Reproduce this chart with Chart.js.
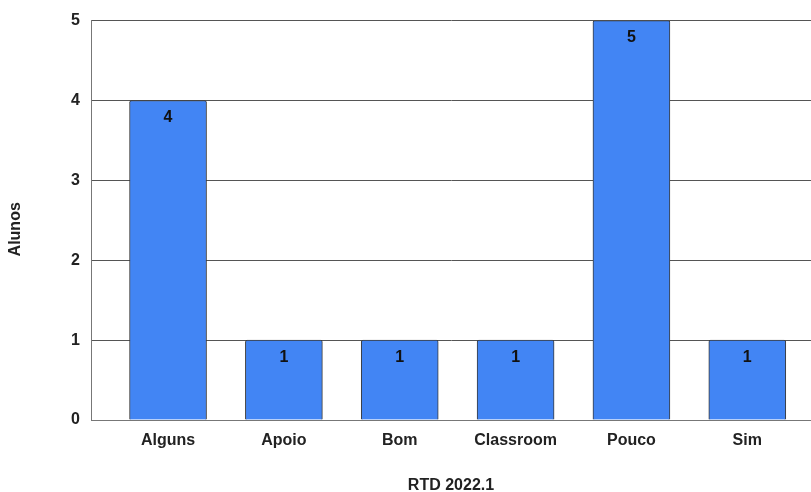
<!DOCTYPE html>
<html>
<head>
<meta charset="utf-8">
<script src="https://cdn.jsdelivr.net/npm/chart.js@4/dist/chart.umd.min.js"></script>
<style>
  html, body { margin: 0; padding: 0; background: #fff; overflow: hidden; }
  #wrap { width: 811px; height: 492px; }
</style>
</head>
<body>
<div id="wrap"><canvas id="chart"></canvas></div>
<script>
const categories = ["Alguns", "Apoio", "Bom", "Classroom", "Pouco", "Sim"];
const alunos = [4, 1, 1, 1, 5, 1];
const yTicks = [0, 1, 2, 3, 4, 5];
const yTitle = "Alunos";
const xTitle = "RTD 2022.1";

const FONT = "'Liberation Sans', Arial, sans-serif";

// value labels inside each bar near the top, plus the y axis title
const barLabels = {
  id: "barLabels",
  afterDatasetsDraw(chart) {
    const ctx = chart.ctx;
    const meta = chart.getDatasetMeta(0);
    ctx.save();
    ctx.font = "bold 16px " + FONT;
    ctx.fillStyle = "#111";
    ctx.textAlign = "center";
    ctx.textBaseline = "middle";
    meta.data.forEach((bar, i) => {
      ctx.fillText(String(alunos[i]), bar.x, bar.y + 17);
    });
    ctx.restore();
  },
  afterDraw(chart) {
    const ctx = chart.ctx;
    const area = chart.chartArea;
    ctx.save();
    ctx.font = "bold 16px " + FONT;
    ctx.fillStyle = "#222";
    ctx.textAlign = "center";
    ctx.textBaseline = "middle";
    ctx.translate(16, (area.top + area.bottom) / 2 + 9);
    ctx.rotate(-Math.PI / 2);
    ctx.fillText(yTitle, 0, 0);
    ctx.restore();
  }
};

new Chart(document.getElementById("chart"), {
  type: "bar",
  data: {
    datasets: [{
      data: categories.map((c, i) => ({ x: i, y: alunos[i] })),
      backgroundColor: "#4285F4",
      borderColor: "#3a3a3a",
      borderWidth: 1,
      borderRadius: 2,
      borderSkipped: "bottom",
      barThickness: 77
    }]
  },
  options: {
    responsive: true,
    maintainAspectRatio: false,
    animation: false,
    layout: { padding: { top: 20, right: 0, left: 0, bottom: 0 } },
    plugins: {
      legend: { display: false },
      tooltip: { enabled: false }
    },
    scales: {
      x: {
        type: "linear",
        offset: false,
        min: -0.665,
        max: 5.55,
        afterBuildTicks: axis => { axis.ticks = categories.map((c, i) => ({ value: i })); },
        afterFit: axis => { axis.height = 72; },
        grid: { display: false, drawTicks: false },
        border: { color: "#777", width: 1 },
        ticks: {
          padding: 11,
          color: "#222",
          font: { family: FONT, size: 16, weight: "bold" },
          maxRotation: 0,
          autoSkip: false,
          callback: v => categories[v]
        },
        title: {
          display: true,
          text: xTitle,
          color: "#222",
          font: { family: FONT, size: 16, weight: "bold", lineHeight: 0.75 },
          padding: { top: 0, bottom: 0 }
        }
      },
      y: {
        min: 0,
        max: 5,
        afterBuildTicks: axis => { axis.ticks = yTicks.map(v => ({ value: v })); },
        afterFit: axis => { axis.width = 91; },
        grid: { color: "#555", lineWidth: 1, drawTicks: false },
        border: { color: "#777", width: 1 },
        ticks: {
          padding: 11,
          color: "#222",
          font: { family: FONT, size: 16, weight: "bold" }
        }
      }
    }
  },
  plugins: [barLabels]
});
</script>
</body>
</html>
